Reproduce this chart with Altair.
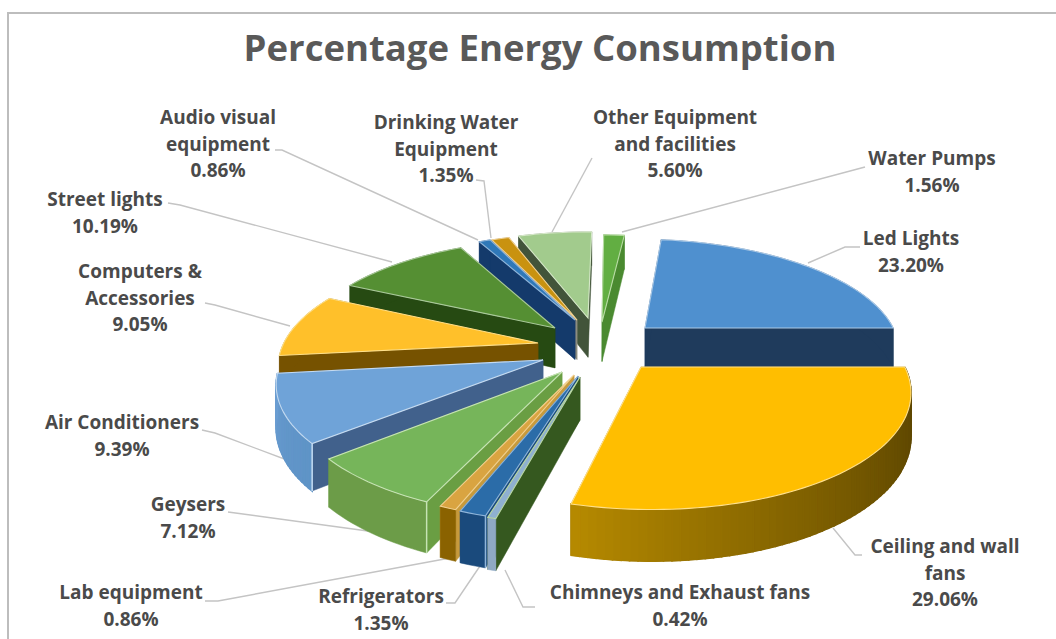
import math
import altair as alt

# Slice shares, clockwise from the first slice
CATEGORIES = ["Led Lights", "Ceiling and wall fans", "Chimneys and Exhaust fans", "Refrigerators",
              "Lab equipment", "Geysers", "Air Conditioners", "Computers & Accessories",
              "Street lights", "Audio visual equipment", "Drinking Water Equipment",
              "Other Equipment and facilities", "Water Pumps"]
SHARES = [23.20, 29.06, 0.42, 1.35, 0.86, 7.12, 9.39, 9.05, 10.19, 0.86, 1.35, 5.60, 1.56]

# Wrapped category names, as printed beside each slice
LABEL_LINES = [["Led Lights"], ["Ceiling and wall", "fans"], ["Chimneys and Exhaust fans"], ["Refrigerators"],
               ["Lab equipment"], ["Geysers"], ["Air Conditioners"], ["Computers &", "Accessories"],
               ["Street lights"], ["Audio visual", "equipment"], ["Drinking Water", "Equipment"],
               ["Other Equipment", "and facilities"], ["Water Pumps"]]
LABEL_ANCHORS = [(911, 239), (945, 547), (680, 593), (381, 597), (131, 593), (188, 505), (122, 423),
                 (140, 272), (105, 200), (218, 118), (446, 123), (675, 118), (932, 159)]
LEADERS = [[(860, 247), (845, 247), (808, 263)], [(862, 555), (855, 555), (833, 528)],
           [(535, 607), (523, 607), (505, 570)], [(446, 603), (455, 603), (482, 563)],
           [(205, 601), (218, 601), (450, 558)], [(228, 512), (375, 532)],
           [(202, 430), (215, 433), (287, 460)], [(205, 303), (215, 305), (290, 326)],
           [(168, 203), (180, 205), (392, 262)], [(275, 150), (282, 150), (478, 240)],
           [(476, 180), (484, 181), (491, 238)], [(592, 158), (552, 232)], [(865, 167), (622, 232)]]

# Where each exploded slice's point sits on the page
APEXES = [(645, 328), (641, 367), (580, 377), (578, 376), (574, 375), (562, 372), (543, 360),
          (538, 343), (555, 328), (575, 320), (577, 320), (588, 318), (602, 322)]

TOP_COLORS = ["#4F90CF", "#FFBE00", "#8FB0D0", "#2B6CA8", "#D9A441", "#76B55A", "#6FA3D8",
              "#FFC02A", "#558F33", "#2F78B8", "#C99210", "#A2CB8D", "#62AE42"]
RADIAL_COLORS = ["#1F3B5C", "#8A6A00", "#35581F", "#1A4A7C", "#C79A3C", "#6A9E43", "#41618C",
                 "#765200", "#264A12", "#143A6B", "#8C8C80", "#42543A", "#4A8A30"]
OUTER_FROM = ["#1F3B5C", "#5A4400", "#8FA9C4", "#1A4A7C", "#8A6200", "#6C9C48", "#5F94C7",
              "#765200", "#264A12", "#143A6B", "#8C8C80", "#42543A", "#4A8A30"]
OUTER_TO = ["#1F3B5C", "#B68A00", "#8FA9C4", "#1A4A7C", "#8A6200", "#6C9C48", "#6A9DD2",
            "#765200", "#264A12", "#143A6B", "#8C8C80", "#42543A", "#4A8A30"]
EDGE_COLORS = ["#A9C9E8", "#FFE08A", "#B8D6A4", "#8FB5DA", "#F0D090", "#C6E3B4", "#C4DAF0",
               "#FFE08A", "#A9C99A", "#8FB5DA", "#F0D090", "#D5E8C8", "#B8DCA4"]
# Slice paint order, far slices first
PAINT_ORDER = [12, 11, 10, 9, 8, 7, 6, 0, 5, 4, 3, 2, 1]
CORNER_HIGHLIGHT = {5, 6, 3}

FIRST_ANGLE = 6.5
RADIUS, THICKNESS = 255, 41
CENTER_X, HORIZON_Y, EYE_HEIGHT, EYE_DISTANCE = 590, -290, 635, 1480


def to_ground(px, py):
    s = (py - HORIZON_Y) / EYE_HEIGHT
    return (px - CENTER_X) / s, EYE_DISTANCE * (1 / s - 1)


def to_page(gx, gy, drop=0.0):
    s = EYE_DISTANCE / (EYE_DISTANCE + gy)
    return [round(CENTER_X + gx * s, 2), round(HORIZON_Y + (EYE_HEIGHT + drop) * s, 2)]


def rim(gx, gy, deg):
    a = math.radians(deg)
    return gx + RADIUS * math.sin(a), gy + RADIUS * math.cos(a)


def blend(c0, c1, t):
    a = [int(c0[i:i + 2], 16) for i in (1, 3, 5)]
    b = [int(c1[i:i + 2], 16) for i in (1, 3, 5)]
    return "#%02x%02x%02x" % tuple(round(p + (q - p) * t) for p, q in zip(a, b))


def feature(coords, fill, stroke, width, line=False):
    geometry = ({"type": "LineString", "coordinates": coords} if line
                else {"type": "Polygon", "coordinates": [coords + [coords[0]]]})
    return {"type": "Feature", "geometry": geometry,
            "properties": {"fill": fill, "stroke": stroke, "width": width}}


# Turn each share into an angular span
spans, running = [], FIRST_ANGLE
for share in SHARES:
    sweep = share * 3.6
    spans.append((running, running + sweep))
    running += sweep

features = []
for i in PAINT_ORDER:
    start, end = spans[i]
    gx, gy = to_ground(*APEXES[i])
    steps = max(2, int((end - start) / 1.5))
    angles = [start + (end - start) * k / steps for k in range(steps + 1)]
    # side walls along both radial edges
    for deg in (end, start):
        rx, ry = rim(gx, gy, deg)
        wall = [to_page(gx, gy), to_page(rx, ry), to_page(rx, ry, THICKNESS), to_page(gx, gy, THICKNESS)]
        features.append(feature(wall, RADIAL_COLORS[i], RADIAL_COLORS[i], 0.5))
    # curved outer wall: a flat band, then shaded strips when the shade travels along it
    upper = [to_page(*rim(gx, gy, a)) for a in angles]
    lower = [to_page(*rim(gx, gy, a), THICKNESS) for a in angles]
    features.append(feature(upper + lower[::-1], OUTER_FROM[i], OUTER_FROM[i], 0.5))
    if OUTER_FROM[i] != OUTER_TO[i]:
        for k in range(steps):
            shade = blend(OUTER_FROM[i], OUTER_TO[i], ((k + 0.5) / steps) ** 1.6)
            strip = [upper[k], upper[k + 1], lower[k + 1], lower[k]]
            features.append(feature(strip, shade, shade, 1.6))
    if i in CORNER_HIGHLIGHT:
        corner = rim(gx, gy, start)
        features.append(feature([to_page(*corner), to_page(*corner, THICKNESS)], "none", EDGE_COLORS[i], 1.5, True))
    # top face
    top = [to_page(gx, gy)] + upper
    features.append(feature(top, TOP_COLORS[i], EDGE_COLORS[i], 1.1))

pie = alt.Chart(alt.Data(values=features)).mark_geoshape().encode(
    fill=alt.Fill("properties.fill:N", scale=None),
    stroke=alt.Stroke("properties.stroke:N", scale=None),
    strokeWidth=alt.StrokeWidth("properties.width:Q", scale=None),
).project(type="identity", scale=1, translate=[0, 0])

# Printed labels: wrapped name lines followed by the share
text_rows = []
for name_lines, share, (x, y) in zip(LABEL_LINES, SHARES, LABEL_ANCHORS):
    for n, line in enumerate(name_lines + [f"{share:.2f}%"]):
        text_rows.append({"x": x, "y": y + n * 26.5, "text": line})

labels = alt.Chart(alt.Data(values=text_rows)).mark_text(
    font="Open Sans", fontWeight="bold", fontSize=19, color="#4A4A4A", align="center", baseline="middle"
).encode(x=alt.X("x:Q", scale=None), y=alt.Y("y:Q", scale=None), text="text:N")

leader_rows = [{"x": x, "y": y, "leader": i, "step": j}
               for i, path in enumerate(LEADERS) for j, (x, y) in enumerate(path)]
leaders = alt.Chart(alt.Data(values=leader_rows)).mark_line(color="#C4C4C4", strokeWidth=1.4).encode(
    x=alt.X("x:Q", scale=None), y=alt.Y("y:Q", scale=None),
    detail="leader:N", order="step:Q")

title = alt.Chart(alt.Data(values=[{"x": 540, "y": 50, "text": "Percentage Energy Consumption"}])).mark_text(
    font="Open Sans", fontWeight="bold", fontSize=36.5, color="#595959", align="center", baseline="middle"
).encode(x=alt.X("x:Q", scale=None), y=alt.Y("y:Q", scale=None), text="text:N")

# Only the top and left sides of the outline fall inside the page
FRAME_LEFT, FRAME_TOP, FRAME_RIGHT, FRAME_BOTTOM = 8, 13, 1070, 660
frame = alt.Chart(alt.Data(values=[{"x": FRAME_LEFT, "x2": FRAME_RIGHT, "y": FRAME_TOP, "y2": FRAME_BOTTOM}])).mark_rect(
    fill="white", stroke="#BDBDBD", strokeWidth=2
).encode(x=alt.X("x:Q", scale=None), x2="x2:Q", y=alt.Y("y:Q", scale=None), y2="y2:Q")

chart = alt.layer(frame, leaders, pie, labels, title).properties(
    width=1056, height=639, padding=0, autosize=alt.AutoSizeParams(type="none"),
    background="white"
).configure_view(stroke=None)

chart.save("out.html", embed_options={"renderer": "svg", "actions": False})
